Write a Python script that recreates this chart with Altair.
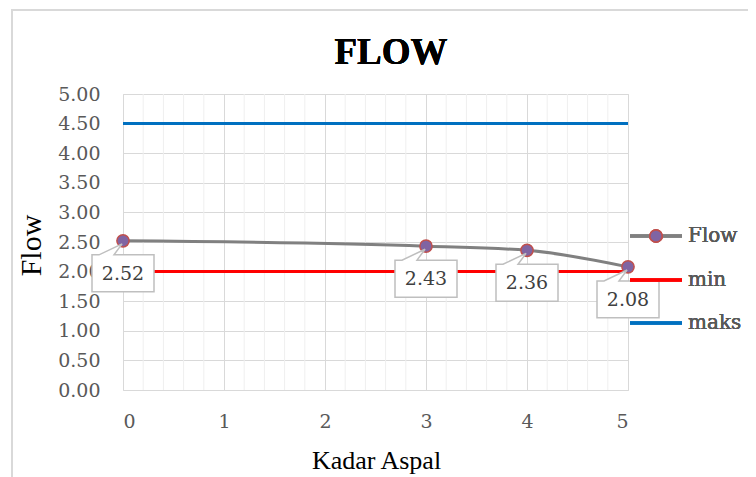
import altair as alt
import pandas as pd
import numpy as np

# ---- data ----
kadar = [0, 3, 4, 5]
flow = [2.52, 2.43, 2.36, 2.08]
min_vals = [2.0, 2.0, 2.0, 2.0]
maks_vals = [4.5, 4.5, 4.5, 4.5]
y_ticks = [0.0, 0.5, 1.0, 1.5, 2.0, 2.5, 3.0, 3.5, 4.0, 4.5, 5.0]
x_ticks = [0, 1, 2, 3, 4, 5]
series_names = ["Flow", "min", "maks"]
series_colors = ["#808080", "#ff0000", "#0070c0"]
chart_title = "FLOW"

df = pd.DataFrame({"kadar": kadar, "flow": flow, "min": min_vals, "maks": maks_vals})
minor_df = pd.DataFrame({"m": [v for v in np.round(np.arange(0, 5.01, 0.2), 2) if abs(v - round(v)) > 1e-6]})

W, H = 505, 296
SERIF_TXT = "DejaVu Serif"
TIMES = "Liberation Serif"
GRID = "#d9d9d9"

xscale = alt.Scale(domain=[0, 5], nice=False, zero=False)
yscale = alt.Scale(domain=[0, 5], nice=False, zero=True)

xaxis = alt.Axis(values=x_ticks, format="d", grid=True, gridColor=GRID, domain=False, ticks=False,
                 labelFont=SERIF_TXT, labelFontSize=19, labelColor="#595959", labelPadding=22,
                 labelOverlap=False,
                 title="Kadar Aspal", titleFont=TIMES, titleFontSize=26, titleFontWeight="normal",
                 titleColor="#000000", titleX=253, titleY=78, titleBaseline="alphabetic")
yaxis = alt.Axis(values=y_ticks, format=".2f", grid=True, gridColor=GRID, domain=False, ticks=False,
                 labelFont=SERIF_TXT, labelFontSize=19, labelColor="#595959", labelPadding=23,
                 labelOverlap=False, labelBound=False,
                 title="Flow", titleFont=TIMES, titleFontSize=30, titleFontWeight="normal",
                 titleColor="#000000", titleAngle=-90, titleX=-83, titleY=151,
                 titleBaseline="alphabetic", titleAlign="center")

# outer chart border (decoration)
border = alt.Chart(df).mark_rect(fill=None, stroke=GRID, strokeWidth=1.5).encode(
    x=alt.value(-111), x2=alt.value(720), y=alt.value(-84), y2=alt.value(500))

title_txt = alt.Chart(df).mark_text(text=chart_title, font=TIMES, fontSize=37, fontWeight="bold",
                                    color="#000000", align="center", baseline="alphabetic").encode(
    x=alt.value(268), y=alt.value(-30))

minor = alt.Chart(minor_df).mark_rule(color="#efefef", strokeWidth=1).encode(
    x=alt.X("m:Q", scale=xscale, axis=xaxis))

base = alt.Chart(df)
X = alt.X("kadar:Q", scale=xscale, axis=xaxis)
flow_line = base.mark_line(color=series_colors[0], strokeWidth=3, interpolate="monotone").encode(
    x=X, y=alt.Y("flow:Q", scale=yscale, axis=yaxis))
min_line = base.mark_line(color=series_colors[1], strokeWidth=3).encode(
    x=X, y=alt.Y("min:Q", scale=yscale, axis=yaxis))
maks_line = base.mark_line(color=series_colors[2], strokeWidth=3).encode(
    x=X, y=alt.Y("maks:Q", scale=yscale, axis=yaxis))
pts = base.mark_point(filled=True, fill="#8064a2", stroke="#c0504d", strokeWidth=1.5, size=150, opacity=1).encode(
    x=X, y=alt.Y("flow:Q", scale=yscale, axis=yaxis))

callout_path = "M -1 0.452 L -0.774 0.452 L -0.03 0.1 L -0.29 0.452 L 1 0.452 L 1 1.645 L -1 1.645 Z"
boxes = base.mark_point(shape=callout_path, size=62 * 62, filled=True, fill="white", stroke="#bfbfbf",
                        strokeWidth=1.5, opacity=1).encode(
    x=X, y=alt.Y("flow:Q", scale=yscale, axis=yaxis))
labels = base.mark_text(font=SERIF_TXT, fontSize=19, color="#404040", dy=33, baseline="middle").encode(
    x=X, y=alt.Y("flow:Q", scale=yscale, axis=yaxis),
    text=alt.Text("flow:Q", format=".2f"))

# legend (manual, to right of plot)
leg_layers = []
leg_y = [142, 186, 229]
for name, col, ly in zip(series_names, series_colors, leg_y):
    leg_layers.append(alt.Chart(df).mark_rule(color=col, strokeWidth=3).encode(
        x=alt.value(507), x2=alt.value(559), y=alt.value(ly)))
    leg_layers.append(alt.Chart(df).mark_text(text=name, font=SERIF_TXT, fontSize=20, color="#595959",
                                              align="left", baseline="middle").encode(
        x=alt.value(565), y=alt.value(ly)))
leg_layers.append(alt.Chart(df).mark_point(filled=True, fill="#8064a2", stroke="#c0504d", strokeWidth=1.5,
                                           size=150, opacity=1).encode(x=alt.value(533), y=alt.value(leg_y[0])))

chart = alt.layer(border, title_txt, minor, flow_line, min_line, maks_line, pts, boxes, labels, *leg_layers).properties(
    width=W, height=H,
    autosize=alt.AutoSizeParams(type="none"),
    padding={"left": 115, "top": 86, "right": 120, "bottom": 89},
).configure_view(stroke=GRID, strokeWidth=1.5).configure(background="white")

chart.save("out.html", embed_options={"renderer": "svg", "actions": False})
